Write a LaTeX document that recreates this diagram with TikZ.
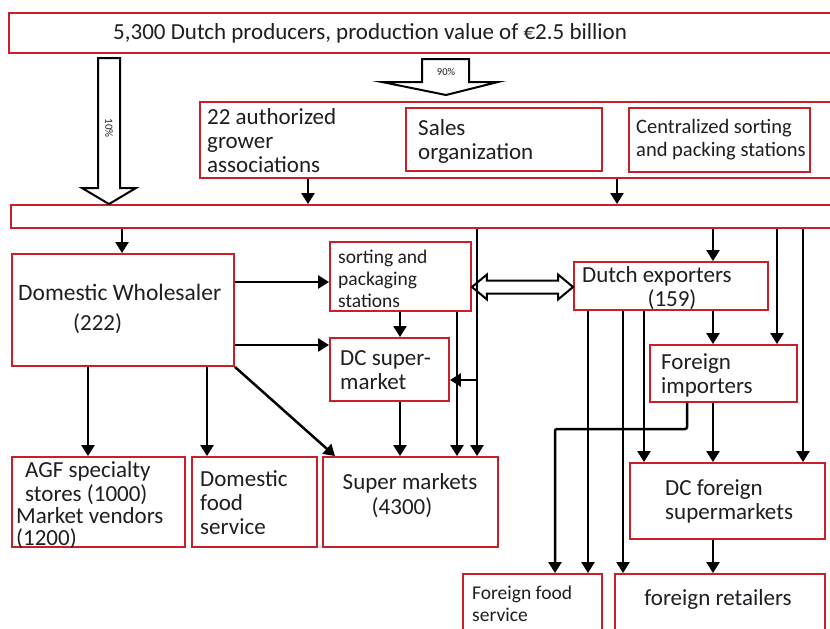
\documentclass[tikz,border=0pt]{standalone}
\usepackage{fontspec}
\setmainfont{Carlito}
\usetikzlibrary{arrows.meta,fit,calc}
\definecolor{boxred}{RGB}{200,32,40}
\definecolor{ink}{RGB}{30,30,35}
\tikzset{
  box/.style={draw=boxred, line width=1.9pt, fill=white, inner sep=0pt},
  lbl/.style={inner sep=0pt, anchor=west, align=left, text=ink, font=\fontsize{23}{24}\selectfont},
  slbl/.style={lbl, font=\fontsize{19.5}{22}\selectfont},
  clbl/.style={lbl, anchor=center, align=center},
  flow/.style={line width=2.5pt, -{Triangle[length=11pt,width=13pt]}},
  hollow/.style={draw=black, line width=2pt, fill=white, line join=miter},
}
\begin{document}
\begin{tikzpicture}[x=1pt,y=-1pt]
\clip (0,0) rectangle (830,629);
\fill[white] (0,0) rectangle (830,629);

% boxes
\node[box, fit={(9,13) (834,53)}] (prod) {};
\node[box, fit={(200,102) (834,178)}] (grow) {};
\node[box, fit={(406,108) (602,171)}] (sales) {};
\node[box, fit={(629,108) (810,172)}] (cent) {};
\node[box, fit={(11,205) (834,228)}] (bar) {};
\node[box, fit={(12,254) (234,366)}] (dw) {};
\node[box, fit={(330,242) (471,311)}] (sort) {};
\node[box, fit={(330,338) (449,401)}] (dcs) {};
\node[box, fit={(574,262) (768,310)}] (exp) {};
\node[box, fit={(650,345) (797,402)}] (fi) {};
\node[box, fit={(12,457) (185,547)}] (agf) {};
\node[box, fit={(192,457) (317,547)}] (dfs) {};
\node[box, fit={(323,457) (498,547)}] (sm) {};
\node[box, fit={(630,463) (825,539)}] (dcf) {};
\node[box, fit={(463,574) (602,640)}] (ffs) {};
\node[box, fit={(615,574) (825,640)}] (fr) {};

% texts
\node[lbl] (tprod) at (113,33) {5,300 Dutch producers, production value of €2.5 billion};
\node[lbl] (tgrow) at (207,141) {22 authorized\\grower\\associations};
\node[lbl] (tsales) at (418,141) {Sales\\organization};
\node[slbl, font=\fontsize{20.5}{23}\selectfont] (tcent) at (636,139.5) {Centralized sorting\\and packing stations};
\node[lbl, font=\fontsize{23.5}{24}\selectfont] (tdw1) at (18,292) {Domestic Wholesaler};
\node[lbl] (tdw2) at (73,324) {(222)};
\node[slbl] (tsort) at (338,279) {sorting and\\packaging\\stations};
\node[lbl] (tdcs) at (340,370) {DC super-\\market};
\node[lbl] (texp1) at (582,276.5) {Dutch exporters};
\node[clbl] (texp2) at (672,300) {(159)};
\node[lbl] (tfi) at (661,375) {Foreign\\importers};
\node[lbl, font=\fontsize{23}{24}\selectfont] (tagf1) at (25,483) {AGF specialty\\stores (1000)};
\node[lbl, font=\fontsize{23}{22}\selectfont] (tagf2) at (16,528.5) {Market vendors\\(1200)};
\node[lbl] (tdfs) at (200,503) {Domestic\\food\\service};
\node[clbl] (tsm1) at (410,483) {Super markets};
\node[clbl] (tsm2) at (402,508) {(4300)};
\node[lbl] (tdcf) at (665,501) {DC foreign\\supermarkets};
\node[slbl] (tffs) at (472,604) {Foreign food\\service};
\node[clbl] (tfr) at (718,599) {foreign retailers};

% hollow share arrows
\coordinate (a10) at (109,58);
\draw[hollow] ($(a10)+(-11,0)$) -- ($(a10)+(11,0)$) -- ($(a10)+(11,130)$) -- ($(a10)+(27,130)$)
  -- (109,0 |- bar.north) -- ($(a10)+(-27,130)$) -- ($(a10)+(-11,130)$) -- cycle;
\node[inner sep=0pt, rotate=-90, text=ink, font=\fontsize{11}{10}\selectfont] (t10) at (109,128) {10\%};

\coordinate (a90) at (446,59);
\draw[hollow] ($(a90)+(-24,0)$) -- ($(a90)+(23,0)$) -- ($(a90)+(23,23)$) -- ($(a90)+(52,23)$)
  -- ($(a90)+(0,36)$) -- ($(a90)+(-64,23)$) -- ($(a90)+(-24,23)$) -- cycle;
\node[inner sep=0pt, text=ink, font=\fontsize{10.5}{10}\selectfont] (t90) at (446,72) {90\%};

% double hollow arrow sorting <-> exporters
\coordinate (dl) at (sort.east |- 0,287);
\coordinate (dr) at (exp.west |- 0,287);
\draw[hollow] (dl) -- ($(dl)+(15,-12.5)$) -- ($(dl)+(15,-6.5)$) -- ($(dr)+(-15,-6.5)$) -- ($(dr)+(-15,-12.5)$)
  -- (dr) -- ($(dr)+(-15,12.5)$) -- ($(dr)+(-15,6.5)$) -- ($(dl)+(15,6.5)$) -- ($(dl)+(15,12.5)$) -- cycle;

% connectors
\draw[flow] (308,0 |- grow.south) -- (308,0 |- bar.north);
\draw[flow] (617,0 |- grow.south) -- (617,0 |- bar.north);
\draw[flow] (122,0 |- bar.south) -- (122,0 |- dw.north);
\draw[flow] (dw.east |- 0,282) -- (sort.west |- 0,282);
\draw[flow] (dw.east |- 0,345) -- (dcs.west |- 0,345);
\draw[flow] (88,0 |- dw.south) -- (88,0 |- agf.north);
\draw[flow] (207,0 |- dw.south) -- (207,0 |- dfs.north);
\draw[flow] (dw.south east) -- (335,0 |- sm.north);
\draw[flow] (400,0 |- sort.south) -- (400,0 |- dcs.north);
\draw[flow] (400,0 |- dcs.south) -- (400,0 |- sm.north);
\draw[flow] (457,0 |- sort.south) -- (457,0 |- sm.north);
\draw[flow] (477,0 |- bar.south) -- (477,0 |- sm.north);
\coordinate (j1) at (477,380);
\draw[flow] (j1) -- (dcs.east |- j1);
\draw[flow] (713,0 |- bar.south) -- (713,0 |- exp.north);
\draw[flow] (777,0 |- bar.south) -- (777,0 |- fi.north);
\draw[flow] (803,0 |- bar.south) -- (803,0 |- dcf.north);
\draw[flow] (713,0 |- exp.south) -- (713,0 |- fi.north);
\draw[flow] (588,0 |- exp.south) -- (588,0 |- ffs.north);
\draw[flow] (623,0 |- exp.south) -- (623,0 |- fr.north);
\draw[flow] (644,0 |- exp.south) -- (644,0 |- dcf.north);
\draw[flow, rounded corners=2pt] (687,0 |- fi.south) -- (687,429) -- (555,429) -- (555,0 |- ffs.north);
\draw[flow] (713,0 |- fi.south) -- (713,0 |- dcf.north);
\draw[flow] (713,0 |- dcf.south) -- (713,0 |- fr.north);
\end{tikzpicture}
\end{document}
